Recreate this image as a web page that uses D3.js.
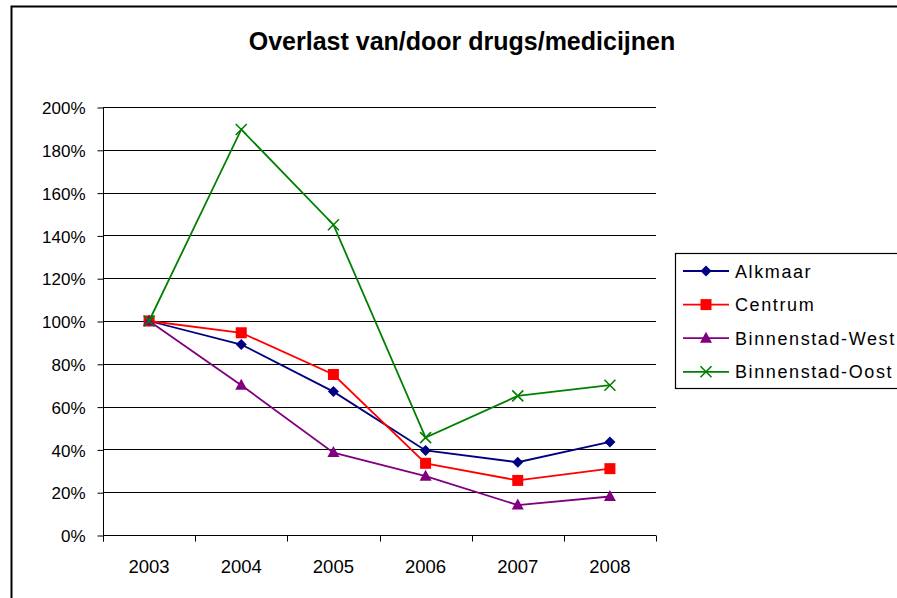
<!DOCTYPE html>
<html>
<head>
<meta charset="utf-8">
<script src="https://cdn.jsdelivr.net/npm/d3@7"></script>
<style>
  body { margin: 0; background: #fff; }
  text { font-family: "Liberation Sans", Arial, sans-serif; }
</style>
</head>
<body>
<script>
  const years = ['2003', '2004', '2005', '2006', '2007', '2008'];
  const alkmaar = [1.00, 0.89, 0.67, 0.395, 0.34, 0.435];
  const centrum = [1.00, 0.945, 0.75, 0.335, 0.255, 0.31];
  const binnenWest = [1.00, 0.70, 0.385, 0.275, 0.14, 0.18];
  const binnenOost = [1.00, 1.895, 1.45, 0.455, 0.65, 0.70];
  const yTicks = [0, 0.2, 0.4, 0.6, 0.8, 1.0, 1.2, 1.4, 1.6, 1.8, 2.0];

  const series = [
    {name: 'Alkmaar', values: alkmaar, color: '#000080', marker: 'diamond'},
    {name: 'Centrum', values: centrum, color: '#ff0000', marker: 'square'},
    {name: 'Binnenstad-West', values: binnenWest, color: '#800080', marker: 'triangle'},
    {name: 'Binnenstad-Oost', values: binnenOost, color: '#008000', marker: 'cross'}
  ];

  const width = 897;
  const height = 598;
  const plot = {left: 103, right: 656, top: 107, bottom: 535};

  const svg = d3.select('body')
    .append('svg')
    .attr('width', width)
    .attr('height', height);

  // outer chart frame (cut off at right and bottom)
  svg.append('path')
    .attr('d', `M11.5,${height + 5} V6.5 H${width + 5}`)
    .attr('fill', 'none')
    .attr('stroke', '#000')
    .attr('stroke-width', 2);

  svg.append('text')
    .attr('x', 462)
    .attr('y', 50)
    .attr('text-anchor', 'middle')
    .style('font-size', '25px')
    .style('font-weight', 'bold')
    .text('Overlast van/door drugs/medicijnen');

  const x = d3.scaleBand()
    .domain(years)
    .range([plot.left, plot.right]);

  const y = d3.scaleLinear()
    .domain([0, 2])
    .range([plot.bottom, plot.top]);

  // gridlines
  svg.append('g')
    .selectAll('line')
    .data(yTicks.slice(1))
    .enter()
    .append('line')
    .attr('x1', plot.left)
    .attr('x2', plot.right)
    .attr('y1', d => Math.round(y(d)) + 0.5)
    .attr('y2', d => Math.round(y(d)) + 0.5)
    .attr('stroke', '#000')
    .attr('stroke-width', 1);

  // y axis
  const yAxis = svg.append('g')
    .attr('transform', `translate(${plot.left + 0.5},0.5)`)
    .call(d3.axisLeft(y).tickValues(yTicks).tickSize(6).tickPadding(12).tickFormat(d3.format('.0%')));
  yAxis.select('.domain').attr('d', `M0,${plot.top}V${plot.bottom + 6}`);
  yAxis.selectAll('text')
    .style('font-size', '17px')
    .attr('fill', '#000')
    .attr('dy', '0.36em');

  // x axis, ticks at category boundaries
  const xAxis = svg.append('g')
    .attr('transform', `translate(0,${plot.bottom + 0.5})`);
  xAxis.append('line')
    .attr('x1', plot.left)
    .attr('x2', plot.right)
    .attr('stroke', '#000');
  xAxis.selectAll('line.tick')
    .data(years.concat(['end']))
    .enter()
    .append('line')
    .attr('class', 'tick')
    .attr('x1', (d, i) => Math.round(i < years.length ? x(d) : plot.right) + 0.5)
    .attr('x2', (d, i) => Math.round(i < years.length ? x(d) : plot.right) + 0.5)
    .attr('y1', 0)
    .attr('y2', 6)
    .attr('stroke', '#000');
  xAxis.selectAll('text')
    .data(years)
    .enter()
    .append('text')
    .attr('x', d => x(d) + x.bandwidth() / 2)
    .attr('y', 37)
    .attr('text-anchor', 'middle')
    .style('font-size', '18.5px')
    .text(d => d);

  const cx = d => x(d) + x.bandwidth() / 2;

  function drawMarker(g, type, color, px, py) {
    if (type === 'diamond') {
      g.append('path')
        .attr('d', `M${px},${py - 5.5}L${px + 5.5},${py}L${px},${py + 5.5}L${px - 5.5},${py}Z`)
        .attr('fill', color);
    } else if (type === 'square') {
      g.append('rect')
        .attr('x', px - 5.5).attr('y', py - 5.5)
        .attr('width', 11).attr('height', 11)
        .attr('fill', color);
    } else if (type === 'triangle') {
      g.append('path')
        .attr('d', `M${px},${py - 6.5}L${px + 6},${py + 4.5}L${px - 6},${py + 4.5}Z`)
        .attr('fill', color);
    } else {
      g.append('path')
        .attr('d', `M${px - 5.5},${py - 5.5}L${px + 5.5},${py + 5.5}M${px + 5.5},${py - 5.5}L${px - 5.5},${py + 5.5}`)
        .attr('stroke', color)
        .attr('stroke-width', 1.6)
        .attr('fill', 'none');
    }
  }

  const line = d3.line()
    .x((d, i) => cx(years[i]))
    .y(d => y(d));

  series.forEach(s => {
    const g = svg.append('g');
    g.append('path')
      .datum(s.values)
      .attr('d', line)
      .attr('fill', 'none')
      .attr('stroke', s.color)
      .attr('stroke-width', 1.8);
    s.values.forEach((v, i) => drawMarker(g, s.marker, s.color, cx(years[i]), y(v)));
  });

  // legend
  const legend = svg.append('g');
  legend.append('rect')
    .attr('x', 675.5)
    .attr('y', 253.5)
    .attr('width', 240)
    .attr('height', 135)
    .attr('fill', '#fff')
    .attr('stroke', '#000')
    .attr('stroke-width', 1.2);

  series.forEach((s, i) => {
    const ly = 271 + i * 33.6;
    const item = legend.append('g');
    item.append('line')
      .attr('x1', 683).attr('x2', 729)
      .attr('y1', ly).attr('y2', ly)
      .attr('stroke', s.color)
      .attr('stroke-width', 1.8);
    drawMarker(item, s.marker, s.color, 706, ly);
    item.append('text')
      .attr('x', 735)
      .attr('y', ly + 6.5)
      .style('font-size', '18px')
      .style('letter-spacing', '1.6px')
      .text(s.name);
  });
</script>
</body>
</html>
